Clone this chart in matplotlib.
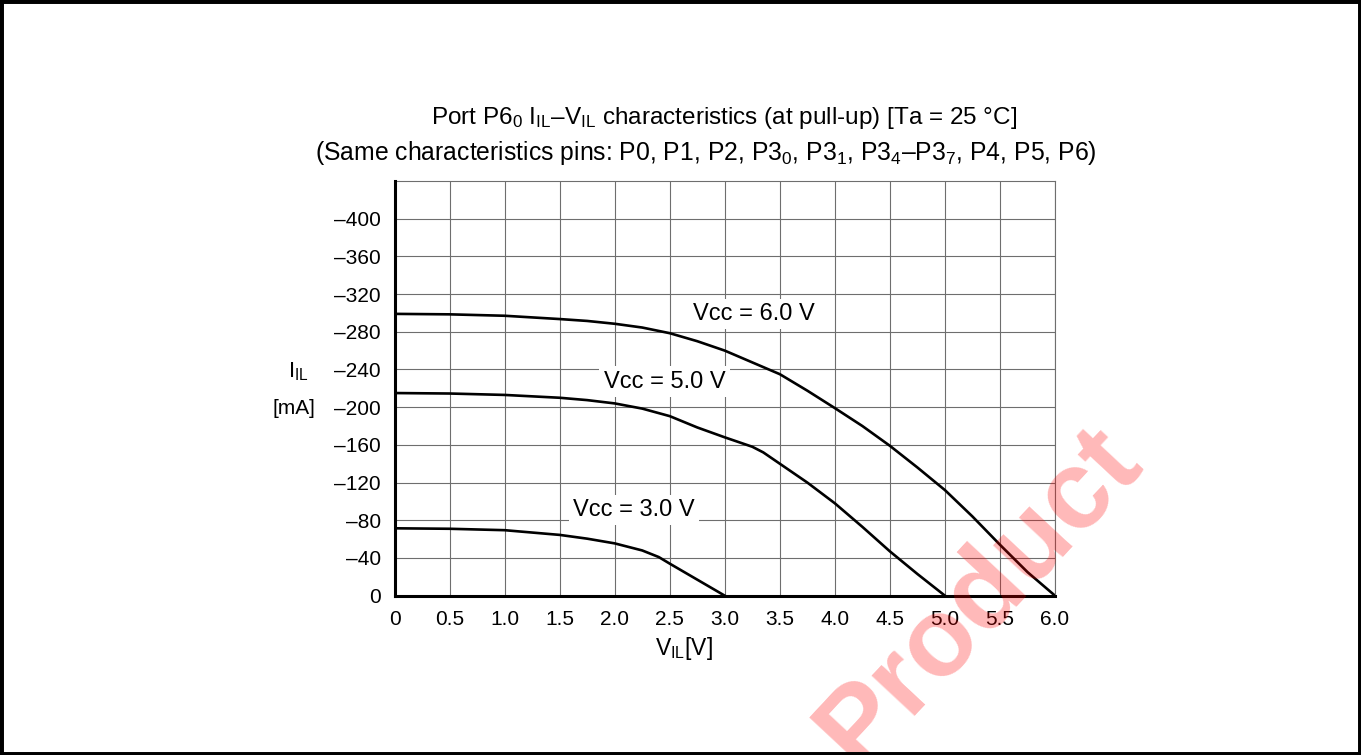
import numpy as np
import matplotlib
matplotlib.use("Agg")
import matplotlib.pyplot as plt
from matplotlib.patches import Rectangle

plt.rcParams['font.family'] = ['Liberation Sans', 'DejaVu Sans']
plt.rcParams['mathtext.fontset'] = 'custom'
plt.rcParams['mathtext.rm'] = 'Liberation Sans'
plt.rcParams['mathtext.it'] = 'Liberation Sans:italic'
plt.rcParams['mathtext.bf'] = 'Liberation Sans:bold'

##-----------DATA-----------##
# V_IL [V] vs I_IL [mA], one curve per supply voltage
v_6 = [0, 0.5, 1.0, 1.5, 1.75, 2.0, 2.25, 2.5, 2.75, 3.0, 3.25, 3.5, 3.75, 4.0, 4.25, 4.5, 4.75, 5.0, 5.25, 5.5, 5.75, 6.0]
i_6 = [-299, -298.5, -297, -293.5, -291.5, -288.5, -284.5, -278.5, -270, -260, -247.5, -235, -217.5, -199,
	   -180, -159, -136, -112, -84, -54, -25, 0]

v_5 = [0, 0.5, 1.0, 1.5, 1.75, 2.0, 2.25, 2.5, 2.75, 3.0, 3.25, 3.35, 3.5, 3.75, 4.0, 4.25, 4.5, 4.75, 5.0]
i_5 = [-215, -214.5, -213, -210, -207.5, -204, -198.5, -190.5, -178.5, -168, -158, -152, -140, -120, -98,
	   -73, -47, -23, 0]

v_3 = [0, 0.5, 1.0, 1.5, 1.75, 2.0, 2.25, 2.4, 2.5, 2.75, 3.0]
i_3 = [-71.5, -71, -69.5, -64.5, -60.5, -55.5, -48, -41, -34, -17, 0]

curve_labels = ['Vcc = 6.0 V', 'Vcc = 5.0 V', 'Vcc = 3.0 V']
label_pos = [(2.71, -299), (1.9, -227), (1.625, -91)]

x_ticks = [0, 0.5, 1.0, 1.5, 2.0, 2.5, 3.0, 3.5, 4.0, 4.5, 5.0, 5.5, 6.0]
x_ticklabels = ['0', '0.5', '1.0', '1.5', '2.0', '2.5', '3.0', '3.5', '4.0', '4.5', '5.0', '5.5', '6.0']
y_ticks = [0, -40, -80, -120, -160, -200, -240, -280, -320, -360, -400]
y_ticklabels = ['0', '–40', '–80', '–120', '–160', '–200', '–240', '–280', '–320', '–360', '–400']

title_1 = r'Port P6$_\mathrm{0}$ I$_\mathrm{IL}$–V$_\mathrm{IL}$ characteristics (at pull-up) [Ta = 25 °C]'
title_2 = (r'(Same characteristics pins: P0, P1, P2, P3$_\mathrm{0}$, P3$_\mathrm{1}$, '
		   r'P3$_\mathrm{4}$–P3$_\mathrm{7}$, P4, P5, P6)')

##-----------FIGURE-----------##
fig = plt.figure(figsize=(13.61, 7.55), dpi=100)
ax = fig.add_axes([0.2899, 0.2110, 0.4853, 0.5493])

fs = 15
grid_c = '#6e6e6e'

for v, i in [(v_6, i_6), (v_5, i_5), (v_3, i_3)]:
	ax.plot(v, i, color='black', lw=1.9, zorder=3, solid_joinstyle='round')

for txt, (x, y) in zip(curve_labels, label_pos):
	ax.text(x, y, txt, fontsize=17, ha='left', va='center', zorder=4,
			bbox=dict(facecolor='white', edgecolor='none', pad=3))

ax.set_xlim(0, 6.0)
ax.set_ylim(0, -440)
ax.set_xticks(x_ticks)
ax.set_xticklabels(x_ticklabels, fontsize=fs)
ax.set_yticks(y_ticks)
ax.set_yticklabels(y_ticklabels, fontsize=fs)
ax.tick_params(length=0, pad=10)
ax.grid(True, color=grid_c, lw=0.8)
ax.set_axisbelow(True)

for s in ['top', 'right']:
	ax.spines[s].set_color(grid_c)
	ax.spines[s].set_linewidth(0.8)
for s in ['left', 'bottom']:
	ax.spines[s].set_color('black')
	ax.spines[s].set_linewidth(2.2)
	ax.spines[s].set_zorder(5)

# axis labels
fig.text(298/1361, 1-372/755, r'I$_\mathrm{IL}$', fontsize=16, ha='center', va='center')
fig.text(294/1361, 1-408/755, '[mA]', fontsize=fs, ha='center', va='center')
fig.text(684/1361, 1-649/755, r'V$_\mathrm{IL}$[V]', fontsize=16.5, ha='center', va='center')

# titles
fig.text(724/1361, 1-118/755, title_1, fontsize=17.5, ha='center', va='center')
fig.text(706/1361, 1-153/755, title_2, fontsize=17.8, ha='center', va='center')

# watermark (cut by the frame, as in the original)
fig.text(980/1361, 1-596/755, 'Product', fontsize=80, fontweight='bold', color='red',
		 alpha=0.28, rotation=47, rotation_mode='anchor', ha='center', va='center', zorder=10)

# frame round the whole picture
fig.patches.append(Rectangle((0, 0), 1, 1, transform=fig.transFigure, fill=False,
							 ec='black', lw=5, zorder=20))

fig.savefig('out.png', dpi=100)
